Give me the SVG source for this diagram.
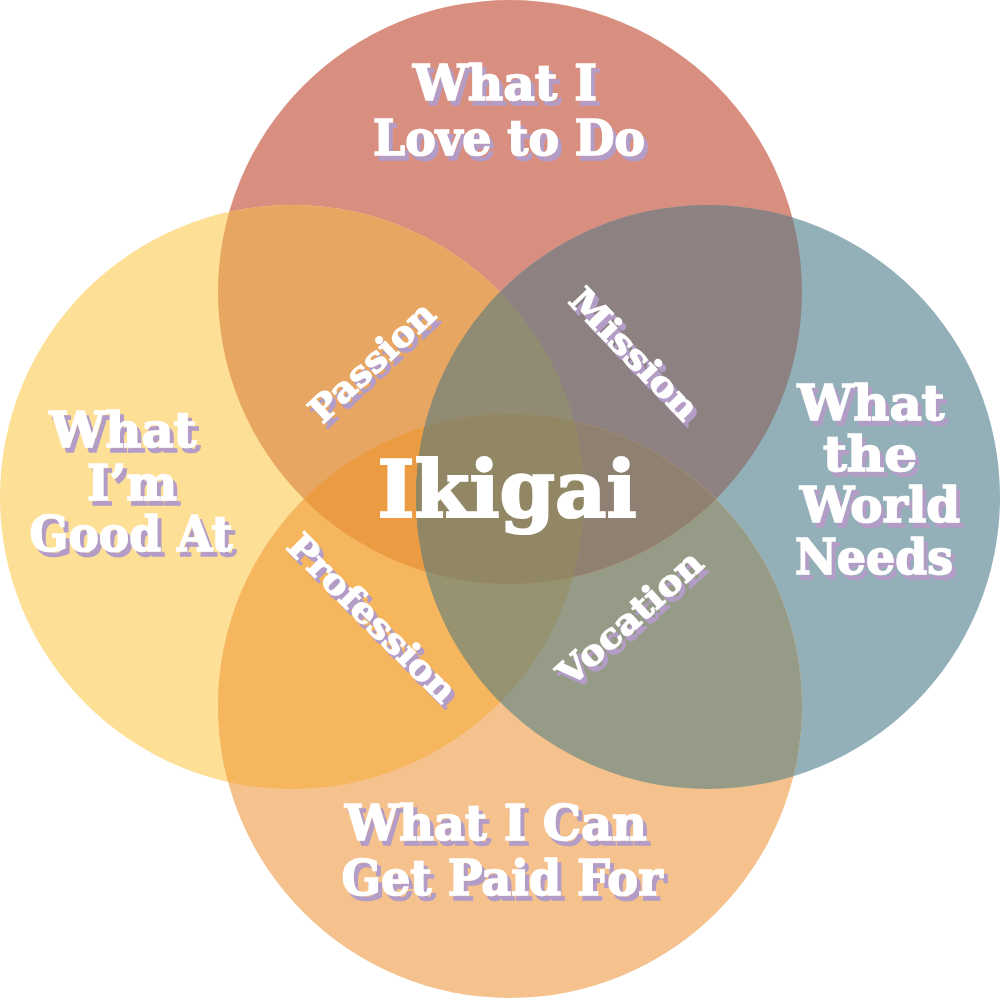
<svg xmlns="http://www.w3.org/2000/svg" width="1000" height="1000" viewBox="0 0 1000 1000">
<defs>
<style>
.lbl{font-family:"DejaVu Serif","Liberation Serif",serif;font-weight:bold;fill:#ffffff;stroke:#ffffff;stroke-linejoin:miter;text-anchor:middle}
.big{font-size:49px;stroke-width:1.6px}
.mid{font-size:35px;stroke-width:1.2px}
.core{font-size:78px;stroke-width:2.2px}
</style>
<filter id="sh" x="-20%" y="-20%" width="140%" height="140%">
<feFlood flood-color="#b39cc6"/>
<feComposite in2="SourceAlpha" operator="in"/>
<feOffset dx="4" dy="5" result="s"/>
<feMerge><feMergeNode in="s"/><feMergeNode in="SourceGraphic"/></feMerge>
</filter>
<clipPath id="cT"><circle cx="510" cy="292" r="292"/></clipPath>
<clipPath id="cL"><circle cx="292" cy="497" r="292"/></clipPath>
<clipPath id="cR"><circle cx="708" cy="497" r="292"/></clipPath>
<clipPath id="cB"><circle cx="510" cy="706" r="292"/></clipPath>
</defs>

<g id="node-love"><circle cx="510" cy="292" r="292" fill="#d98f80"/></g>
<g id="node-good"><circle cx="292" cy="497" r="292" fill="#fddf96"/></g>
<g id="node-world"><circle cx="708" cy="497" r="292" fill="#93b0b9"/></g>
<g id="node-paid"><circle cx="510" cy="706" r="292" fill="#f5c28e"/></g>

<g id="overlaps">
<circle cx="292" cy="497" r="292" fill="#e7a661" clip-path="url(#cT)"/>
<circle cx="708" cy="497" r="292" fill="#8d8281" clip-path="url(#cT)"/>
<circle cx="510" cy="706" r="292" fill="#f5b65e" clip-path="url(#cL)"/>
<circle cx="510" cy="706" r="292" fill="#969b87" clip-path="url(#cR)"/>
<circle cx="510" cy="706" r="292" fill="#e9a262" clip-path="url(#cT)"/>
<circle cx="708" cy="497" r="292" fill="#929272" clip-path="url(#cL)"/>
<g clip-path="url(#cT)"><circle cx="708" cy="497" r="292" fill="#908b72" clip-path="url(#cL)"/></g>
<g clip-path="url(#cT)"><circle cx="510" cy="706" r="292" fill="#eb9b42" clip-path="url(#cL)"/></g>
<g clip-path="url(#cT)"><circle cx="510" cy="706" r="292" fill="#8e8172" clip-path="url(#cR)"/></g>
<g clip-path="url(#cL)"><circle cx="510" cy="706" r="292" fill="#979270" clip-path="url(#cR)"/></g>
<g clip-path="url(#cT)"><g clip-path="url(#cL)"><circle cx="510" cy="706" r="292" fill="#918764" clip-path="url(#cR)"/></g></g>
</g>

<g id="connectors"/>

<g id="label-love" filter="url(#sh)">
<text class="lbl big" x="505" y="100" textLength="184" lengthAdjust="spacingAndGlyphs">What I</text>
<text class="lbl big" x="509" y="155" textLength="272" lengthAdjust="spacingAndGlyphs">Love to Do</text>
</g>
<g id="label-good" filter="url(#sh)">
<text class="lbl big" x="123" y="447" textLength="147" lengthAdjust="spacingAndGlyphs">What</text>
<text class="lbl big" x="132" y="500" textLength="90" lengthAdjust="spacingAndGlyphs">I’m</text>
<text class="lbl big" x="131" y="551" textLength="203" lengthAdjust="spacingAndGlyphs">Good At</text>
</g>
<g id="label-world" filter="url(#sh)">
<text class="lbl big" x="871" y="420" textLength="147" lengthAdjust="spacingAndGlyphs">What</text>
<text class="lbl big" x="870" y="471" textLength="94" lengthAdjust="spacingAndGlyphs">the</text>
<text class="lbl big" x="880" y="522" textLength="160" lengthAdjust="spacingAndGlyphs">World</text>
<text class="lbl big" x="874" y="574" textLength="158" lengthAdjust="spacingAndGlyphs">Needs</text>
</g>
<g id="label-paid" filter="url(#sh)">
<text class="lbl big" x="496" y="840" textLength="302" lengthAdjust="spacingAndGlyphs">What I Can</text>
<text class="lbl big" x="502" y="895" textLength="321" lengthAdjust="spacingAndGlyphs">Get Paid For</text>
</g>
<g id="label-passion" filter="url(#sh)">
<text class="lbl mid" transform="translate(372,362) rotate(-43)" x="0" y="12" textLength="158" lengthAdjust="spacingAndGlyphs">Passion</text>
</g>
<g id="label-mission" filter="url(#sh)">
<text class="lbl mid" transform="translate(634,354) rotate(46)" x="0" y="12" textLength="168" lengthAdjust="spacingAndGlyphs">Mission</text>
</g>
<g id="label-profession" filter="url(#sh)">
<text class="lbl mid" transform="translate(372,618) rotate(45)" x="0" y="12" textLength="222" lengthAdjust="spacingAndGlyphs">Profession</text>
</g>
<g id="label-vocation" filter="url(#sh)">
<text class="lbl mid" transform="translate(630,618) rotate(-42)" x="0" y="12" textLength="182" lengthAdjust="spacingAndGlyphs">Vocation</text>
</g>
<g id="label-ikigai">
<text class="lbl core" x="507" y="517" textLength="259" lengthAdjust="spacingAndGlyphs">Ikigai</text>
</g>
</svg>
